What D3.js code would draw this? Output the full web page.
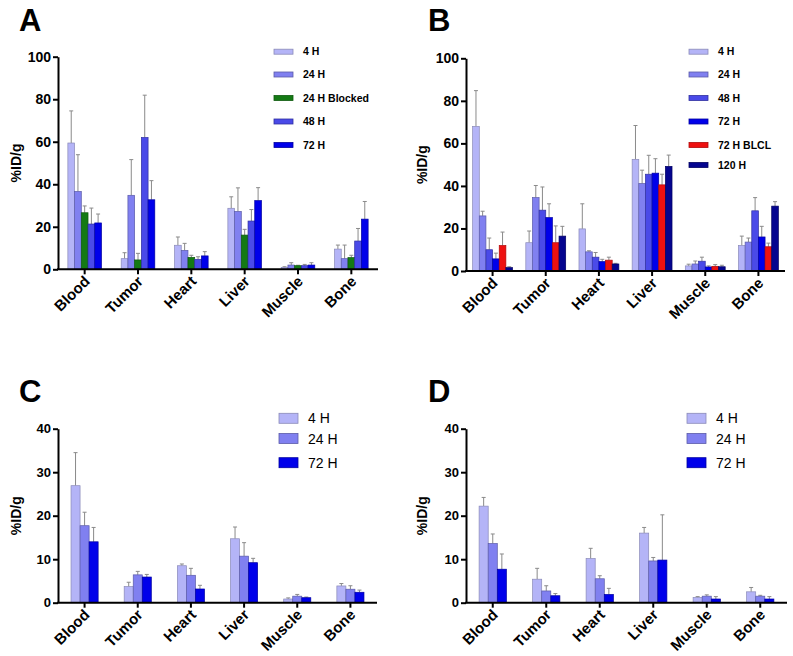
<!DOCTYPE html>
<html>
<head>
<meta charset="utf-8">
<script src="https://d3js.org/d3.v7.min.js"></script>
<style>
  body { margin: 0; background: #fff; }
  svg { font-family: "Liberation Sans", Arial, sans-serif; }
</style>
</head>
<body>
<div id="view-container"></div>
<script>
// ************** data *****************
var organs = ["Blood", "Tumor", "Heart", "Liver", "Muscle", "Bone"];

// panel A
var seriesA = ["4 H", "24 H", "24 H Blocked", "48 H", "72 H"];
var meanA = [
  [59.4, 5.0, 11.3, 28.7, 0.9, 9.5],
  [36.6, 34.8, 8.9, 27.2, 2.0, 5.0],
  [26.6, 4.4, 5.6, 16.1, 1.7, 5.5],
  [21.3, 62.0, 4.7, 22.7, 1.7, 13.3],
  [21.8, 32.7, 6.3, 32.3, 2.0, 23.6]
];
var sdA = [
  [15.1, 2.8, 3.9, 5.4, 0.3, 1.9],
  [17.3, 16.8, 3.3, 11.1, 1.1, 6.4],
  [3.2, 3.1, 1.0, 2.7, 0.2, 1.1],
  [7.5, 19.9, 1.2, 5.4, 0.6, 5.9],
  [4.2, 9.0, 2.0, 6.1, 1.1, 8.3]
];

// panel B
var seriesB = ["4 H", "24 H", "48 H", "72 H", "72 H BLCL", "120 H"];
var meanB = [
  [68.0, 13.3, 19.8, 52.5, 2.4, 12.0],
  [25.9, 34.5, 9.0, 41.1, 3.3, 13.6],
  [10.0, 28.6, 6.5, 45.5, 4.6, 28.3],
  [5.7, 25.1, 4.4, 46.0, 1.9, 16.0],
  [12.0, 13.3, 5.1, 40.5, 2.2, 11.4],
  [1.6, 16.4, 3.3, 49.2, 2.0, 30.5]
];
var sdB = [
  [16.8, 5.5, 11.8, 15.9, 0.8, 4.4],
  [2.2, 5.7, 0.5, 6.3, 1.4, 1.9],
  [5.5, 10.9, 2.2, 8.9, 1.9, 6.2],
  [2.7, 6.5, 1.1, 6.8, 0.5, 5.0],
  [6.3, 7.9, 1.4, 5.0, 0.8, 1.7],
  [0.4, 4.6, 0.3, 5.3, 0.7, 2.1]
];

// panels C and D
var seriesCD = ["4 H", "24 H", "72 H"];
var meanC = [
  [26.9, 3.7, 8.5, 14.7, 0.85, 3.85],
  [17.7, 6.4, 6.3, 10.7, 1.5, 3.1],
  [14.0, 5.9, 3.15, 9.2, 1.15, 2.4]
];
var sdC = [
  [7.6, 1.0, 0.4, 2.7, 0.25, 0.55],
  [3.1, 0.8, 1.6, 3.1, 0.4, 0.8],
  [3.3, 0.6, 0.85, 1.0, 0.15, 0.5]
];
var meanD = [
  [22.2, 5.4, 10.15, 16.0, 1.2, 2.5],
  [13.6, 2.7, 5.5, 9.6, 1.5, 1.5],
  [7.7, 1.6, 1.9, 9.8, 0.85, 0.85]
];
var sdD = [
  [2.0, 2.5, 2.35, 1.3, 0.2, 1.0],
  [2.2, 1.2, 0.7, 0.8, 0.3, 0.2],
  [3.5, 0.5, 1.4, 10.4, 0.55, 0.55]
];

var yTicksAB = [0, 20, 40, 60, 80, 100];
var yTicksCD = [0, 10, 20, 30, 40];

// ************** colors *****************
var colorSet = {
  "4 H": "#b4b4f7",
  "24 H": "#8080f0",
  "24 H Blocked": "#147a14",
  "48 H": "#4a4ae8",
  "72 H": "#0000ea",
  "72 H BLCL": "#ee1111",
  "120 H": "#05058f"
};
var strokeSet = {
  "4 H": "#8a8ab8",
  "24 H": "#5a5aa8",
  "24 H Blocked": "#0e5a0e",
  "48 H": "#3030a0",
  "72 H": "#0000a0",
  "72 H BLCL": "#b00a0a",
  "120 H": "#020260"
};

var svg = d3.select("#view-container").append("svg")
  .attr("width", 793)
  .attr("height", 656);

function drawPanel(p) {
  var g = svg.append("g");

  // panel letter
  g.append("text")
    .attr("x", p.letterX)
    .attr("y", p.letterY)
    .attr("font-size", "31px")
    .attr("font-weight", "bold")
    .text(p.letter);

  var x = d3.scaleBand()
    .domain(organs)
    .range([p.x0, p.x1])
    .paddingInner(p.pad)
    .paddingOuter(p.pad / 2);

  var xs = d3.scaleBand()
    .domain(p.series)
    .range([0, x.bandwidth()]);

  var y = d3.scaleLinear()
    .domain([0, p.yMax])
    .range([p.y0, p.y1]);

  // bars and error bars
  p.series.forEach(function(s, i) {
    var rows = organs.map(function(o, j) { return {organ: o, m: p.mean[i][j], sd: p.sd[i][j]}; });
    var sg = g.append("g");

    sg.selectAll("line.err")
      .data(rows)
      .enter()
      .append("line")
      .attr("class", "err")
      .attr("x1", function(d) { return x(d.organ) + xs(s) + xs.bandwidth() / 2; })
      .attr("x2", function(d) { return x(d.organ) + xs(s) + xs.bandwidth() / 2; })
      .attr("y1", function(d) { return y(d.m); })
      .attr("y2", function(d) { return y(d.m + d.sd); })
      .attr("stroke", "#8a8a8a")
      .attr("stroke-width", 1);

    sg.selectAll("line.cap")
      .data(rows)
      .enter()
      .append("line")
      .attr("class", "cap")
      .attr("x1", function(d) { return x(d.organ) + xs(s) + xs.bandwidth() / 2 - 2; })
      .attr("x2", function(d) { return x(d.organ) + xs(s) + xs.bandwidth() / 2 + 2; })
      .attr("y1", function(d) { return y(d.m + d.sd); })
      .attr("y2", function(d) { return y(d.m + d.sd); })
      .attr("stroke", "#8a8a8a")
      .attr("stroke-width", 1);

    sg.selectAll("rect")
      .data(rows)
      .enter()
      .append("rect")
      .attr("x", function(d) { return x(d.organ) + xs(s); })
      .attr("y", function(d) { return y(d.m); })
      .attr("width", xs.bandwidth())
      .attr("height", function(d) { return y(0) - y(d.m); })
      .attr("fill", colorSet[s])
      .attr("stroke", strokeSet[s])
      .attr("stroke-width", 0.7);
  });

  // y axis
  var yAxis = g.append("g")
    .attr("transform", "translate(" + p.x0 + ",0)")
    .call(d3.axisLeft(y).tickValues(p.yTicks).tickSize(5).tickSizeOuter(0).tickPadding(2));
  yAxis.select(".domain").attr("stroke-width", 2);
  yAxis.selectAll(".tick line").attr("stroke-width", 2);
  yAxis.selectAll(".tick text")
    .attr("font-size", p.tickFont)
    .attr("font-weight", "bold")
    .attr("font-family", "Liberation Sans, Arial, sans-serif")
    .attr("fill", "#000");

  // x axis
  var xAxis = g.append("g")
    .attr("transform", "translate(0," + p.y0 + ")")
    .call(d3.axisBottom(x).tickSize(5).tickSizeOuter(0));
  xAxis.select(".domain").attr("stroke-width", 2).attr("d", "M" + (p.x0 - 1) + ",0H" + p.x1);
  xAxis.selectAll(".tick line").attr("stroke-width", 2);
  xAxis.selectAll(".tick text")
    .attr("font-size", "15px")
    .attr("font-weight", "bold")
    .attr("font-family", "Liberation Sans, Arial, sans-serif")
    .attr("fill", "#000")
    .attr("text-anchor", "end")
    .attr("dy", null)
    .attr("y", 0)
    .attr("transform", "translate(6,13) rotate(-45)");

  // y label
  g.append("text")
    .attr("transform", "translate(" + p.ylabX + "," + ((p.y0 + p.y1) / 2) + ") rotate(-90)")
    .attr("text-anchor", "middle")
    .attr("font-size", "14px")
    .attr("font-weight", "bold")
    .text("%ID/g");

  // legend
  var lg = g.append("g");
  p.series.forEach(function(s, i) {
    lg.append("rect")
      .attr("x", p.legX)
      .attr("y", p.legY[i] - p.swH / 2)
      .attr("width", 19)
      .attr("height", p.swH)
      .attr("fill", colorSet[s])
      .attr("stroke", strokeSet[s])
      .attr("stroke-width", 0.8);
    lg.append("text")
      .attr("x", p.legX + 29)
      .attr("y", p.legY[i])
      .attr("dy", "0.36em")
      .attr("font-size", p.legFont)
      .attr("font-weight", p.legWeight)
      .text(s);
  });
}

drawPanel({letter: "A", letterX: 19, letterY: 31, series: seriesA, mean: meanA, sd: sdA,
  x0: 58, x1: 378, pad: 0.37, y0: 269.3, y1: 56.7, yMax: 100, yTicks: yTicksAB, tickFont: "14px",
  ylabX: 21, legX: 274, legY: [51.7, 74.5, 98, 121.5, 145], swH: 5, legFont: "10.5px", legWeight: "bold"});

drawPanel({letter: "B", letterX: 428, letterY: 31, series: seriesB, mean: meanB, sd: sdB,
  x0: 466, x1: 785, pad: 0.25, y0: 271, y1: 58.3, yMax: 100, yTicks: yTicksAB, tickFont: "14px",
  ylabX: 427, legX: 689, legY: [51.7, 74.5, 98, 121.5, 145, 165], swH: 5, legFont: "10.5px", legWeight: "bold"});

drawPanel({letter: "C", letterX: 19, letterY: 402, series: seriesCD, mean: meanC, sd: sdC,
  x0: 58, x1: 377, pad: 0.49, y0: 602.7, y1: 428.7, yMax: 40, yTicks: yTicksCD, tickFont: "13px",
  ylabX: 21, legX: 279, legY: [418.3, 438.5, 462.7], swH: 10, legFont: "14px", legWeight: "normal"});

drawPanel({letter: "D", letterX: 428, letterY: 402, series: seriesCD, mean: meanD, sd: sdD,
  x0: 466, x1: 787, pad: 0.49, y0: 602.7, y1: 428.7, yMax: 40, yTicks: yTicksCD, tickFont: "13px",
  ylabX: 427, legX: 687, legY: [418.3, 438.5, 462.7], swH: 10, legFont: "14px", legWeight: "normal"});
</script>
</body>
</html>
